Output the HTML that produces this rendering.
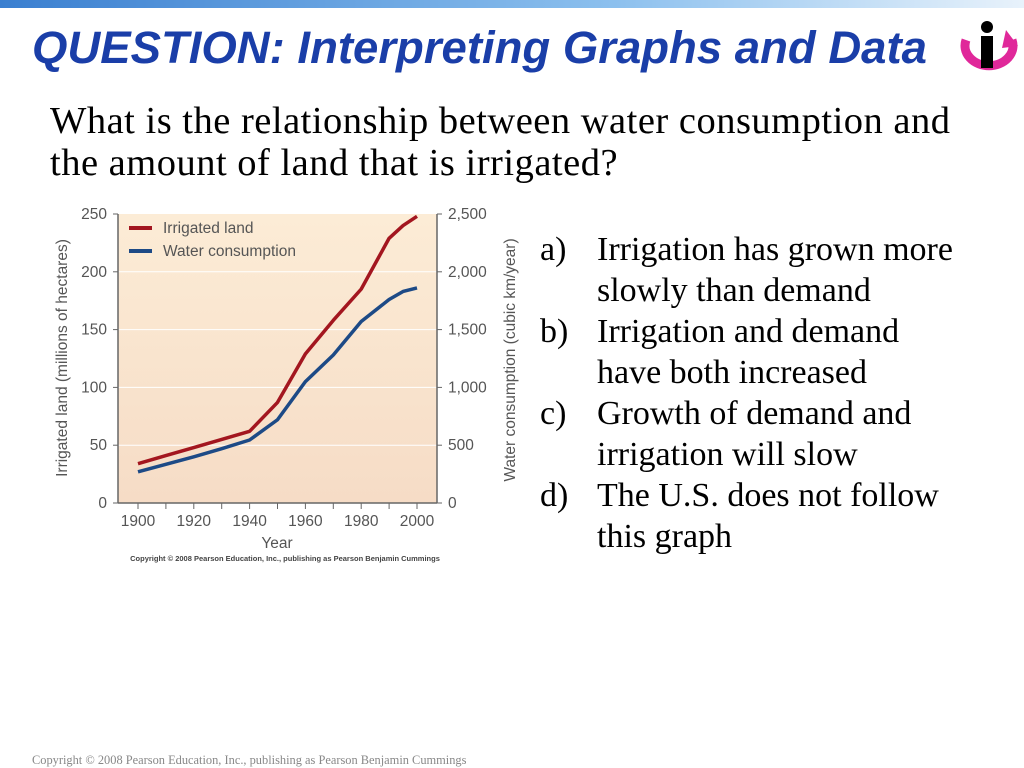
<!DOCTYPE html>
<html><head><meta charset="utf-8"><style>
body{margin:0;width:1024px;height:768px;position:relative;background:#fff;overflow:hidden;font-family:"Liberation Serif",serif}
.abs{position:absolute}
#topbar{left:0;top:0;width:1024px;height:8px;background:linear-gradient(90deg,#3a7fd0,#8cc0ee 60%,#e8f2fb)}
#title{left:32px;top:22px;font:italic bold 45.5px "Liberation Sans",sans-serif;color:#1a3ea8;white-space:nowrap}
#q{left:50px;top:100px;font-size:38.5px;letter-spacing:0.5px;line-height:42px;color:#000;white-space:nowrap}
#ans{left:540px;top:229px;font-size:34px;line-height:41px;color:#000;white-space:nowrap}
#ans div{position:relative;padding-left:57px}
#ans span{position:absolute;left:0}
#copy{left:32px;top:753px;font-size:12.4px;color:#888;white-space:nowrap}
</style></head><body>
<div class="abs" id="topbar"></div>
<div class="abs" id="title">QUESTION: Interpreting Graphs and Data</div>
<svg class="abs" style="left:952px;top:18px" width="70" height="58">
<path d="M14 22 A24 20 0 1 0 60 22" fill="none" stroke="#e0289a" stroke-width="9"/>
<path d="M54 12 L66 28 L50 30Z" fill="#e0289a"/>
<circle cx="35" cy="9" r="6" fill="#000"/><rect x="29" y="18" width="12" height="32" fill="#000"/>
</svg>
<div class="abs" id="q">What is the relationship between water consumption and<br>the amount of land that is irrigated?</div>
<div class="abs" id="ans">
<div><span>a)</span>Irrigation has grown more<br>slowly than demand</div>
<div><span>b)</span>Irrigation and demand<br>have both increased</div>
<div><span>c)</span>Growth of demand and<br>irrigation will slow</div>
<div><span>d)</span>The U.S. does not follow<br>this graph</div>
</div>
<svg class="abs" id="chart" style="left:0;top:0" width="540" height="570"></svg>
<div class="abs" id="copy">Copyright © 2008 Pearson Education, Inc., publishing as Pearson Benjamin Cummings</div>
<script>
const years=[1900,1910,1920,1930,1940,1950,1960,1970,1980,1990,1995,2000];
const irrigated=[34,41,48,55,62,87,129,158,185,229,240,248];
const wyears=[1900,1910,1920,1930,1940,1950,1960,1970,1980,1990,1995,2000];
const water=[270,335,400,470,545,720,1050,1280,1570,1760,1830,1860];
const leftTicks=[0,50,100,150,200,250];
const rightTicks=["0","500","1,000","1,500","2,000","2,500"];
const xTicks=[1900,1920,1940,1960,1980,2000];
const NS="http://www.w3.org/2000/svg",svg=document.getElementById('chart');
const L=118,R=437,T=214,B=503;
const x=v=>138+(v-1900)*(417-138)/100;
const yL=v=>B-v*(B-T)/250;
const yR=v=>B-v*(B-T)/2500;
const FS=15.5;
function mk(t,a,txt){const e=document.createElementNS(NS,t);for(const k in a)e.setAttribute(k,a[k]);if(txt!==undefined)e.textContent=txt;svg.appendChild(e);return e;}
const defs=mk('defs',{});defs.innerHTML='<linearGradient id="bg" x1="0" y1="0" x2="0" y2="1"><stop offset="0" stop-color="#fcecd6"/><stop offset="1" stop-color="#f6dcc6"/></linearGradient>';
let e=mk('rect',{x:L,y:T,width:R-L,height:B-T,fill:'url(#bg)'});

leftTicks.forEach((v,i)=>{
 if(v>0&&v<250){e=mk('line',{x1:L,x2:R,y1:yL(v),y2:yL(v),stroke:'#fff','stroke-width':1});}
 e=mk('line',{x1:L-5,x2:L,y1:yL(v),y2:yL(v),stroke:'#666'});
 e=mk('text',{x:L-11,y:yL(v)+5,'text-anchor':'end','font-size':FS,fill:'#555','font-family':'Liberation Sans,sans-serif'},String(v));
 e=mk('line',{x1:R,x2:R+5,y1:yL(v),y2:yL(v),stroke:'#666'});
 e=mk('text',{x:R+11,y:yL(v)+5,'font-size':FS,fill:'#555','font-family':'Liberation Sans,sans-serif'},rightTicks[i]);
});
e=mk('line',{x1:L,x2:L,y1:T,y2:B,stroke:'#666','stroke-width':1.5});
e=mk('line',{x1:R,x2:R,y1:T,y2:B,stroke:'#666','stroke-width':1.5});
e=mk('line',{x1:L,x2:R,y1:B,y2:B,stroke:'#666','stroke-width':1.5});
for(let yv=1900;yv<=2000;yv+=10){e=mk('line',{x1:x(yv),x2:x(yv),y1:B,y2:B+6,stroke:'#666'});}
xTicks.forEach(v=>{e=mk('text',{x:x(v),y:B+23,'text-anchor':'middle','font-size':FS,fill:'#555','font-family':'Liberation Sans,sans-serif'},String(v));});
e=mk('text',{x:277,y:548,'text-anchor':'middle','font-size':FS,fill:'#555','font-family':'Liberation Sans,sans-serif'},'Year');
e=mk('text',{transform:'translate(67,358) rotate(-90)','text-anchor':'middle','font-size':FS,fill:'#555','font-family':'Liberation Sans,sans-serif'},'Irrigated land (millions of hectares)');
e=mk('text',{transform:'translate(515,360) rotate(-90)','text-anchor':'middle','font-size':FS,fill:'#555','font-family':'Liberation Sans,sans-serif'},'Water consumption (cubic km/year)');
e=mk('text',{x:285,y:561,'text-anchor':'middle','font-size':7.5,'font-weight':'bold',fill:'#444','font-family':'Liberation Sans,sans-serif'},'Copyright © 2008 Pearson Education, Inc., publishing as Pearson Benjamin Cummings');
e=mk('polyline',{points:wyears.map((v,i)=>x(v)+','+yR(water[i])).join(' '),fill:'none',stroke:'#1d4a86','stroke-width':3.5,'stroke-linejoin':'round'});
e=mk('polyline',{points:years.map((v,i)=>x(v)+','+yL(irrigated[i])).join(' '),fill:'none',stroke:'#a3161f','stroke-width':3.5,'stroke-linejoin':'round'});
e=mk('line',{x1:129,x2:152,y1:228,y2:228,stroke:'#a3161f','stroke-width':4});
e=mk('text',{x:163,y:233,'font-size':FS,fill:'#555','font-family':'Liberation Sans,sans-serif'},'Irrigated land');
e=mk('line',{x1:129,x2:152,y1:251,y2:251,stroke:'#1d4a86','stroke-width':4});
e=mk('text',{x:163,y:256,'font-size':FS,fill:'#555','font-family':'Liberation Sans,sans-serif'},'Water consumption');
</script>
</body></html>
